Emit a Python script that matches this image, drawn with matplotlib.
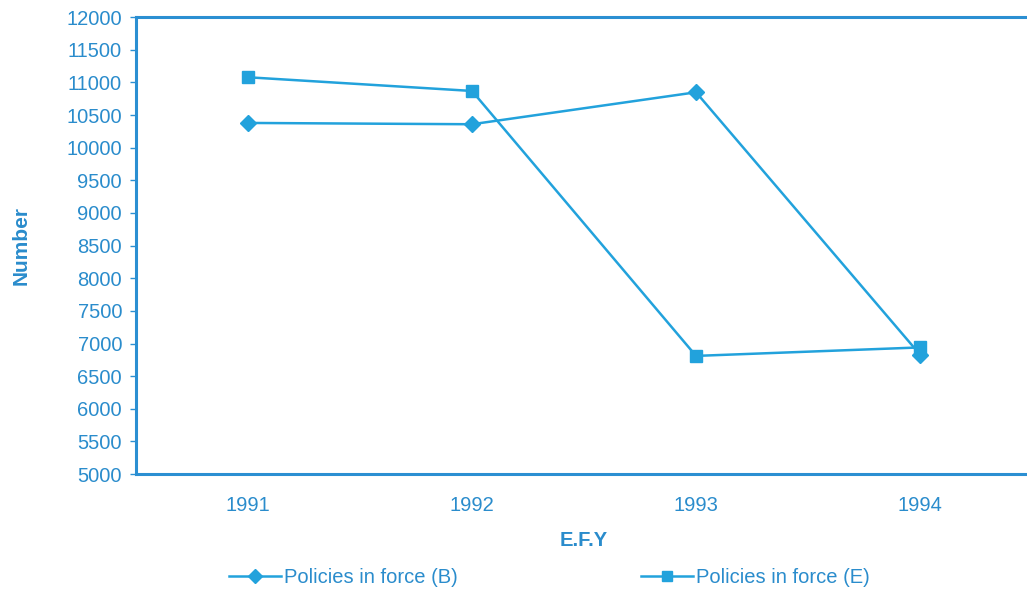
import matplotlib
matplotlib.use("Agg")
import matplotlib.pyplot as plt

years = ["1991", "1992", "1993", "1994"]
policies_b = [10380, 10360, 10850, 6830]
policies_e = [11080, 10870, 6810, 6940]
y_ticks = list(range(5000, 12001, 500))

blue = "#22a2dc"
frame_blue = "#2b8fd2"
text_blue = "#2a8ccc"

plt.rcParams["font.family"] = ["Liberation Sans", "DejaVu Sans"]

fig = plt.figure(figsize=(10.27, 5.94), dpi=100)
ax = fig.add_axes([0.1324, 0.202, 0.8725, 0.769])

x = list(range(len(years)))
ax.plot(x, policies_b, color=blue, lw=1.8, marker="D", markersize=8,
        label="Policies in force (B)")
ax.plot(x, policies_e, color=blue, lw=1.8, marker="s", markersize=9,
        label="Policies in force (E)")

ax.set_xlim(-0.5, 3.5)
ax.set_ylim(5000, 12000)
ax.set_xticks(x)
ax.set_xticklabels(years)
ax.set_yticks(y_ticks)
ax.tick_params(axis="x", length=0, pad=16, labelsize=14.5, labelcolor=text_blue)
ax.tick_params(axis="y", length=4, width=1, color=frame_blue, pad=6,
               labelsize=14.5, labelcolor=text_blue)
for s in ax.spines.values():
    s.set_color(frame_blue)
    s.set_linewidth(2.2)

ax.set_xlabel("E.F.Y", fontsize=14.5, fontweight="bold", color=text_blue, labelpad=11)
ax.set_ylabel("Number", fontsize=15, fontweight="bold", color=text_blue, labelpad=26)

fig.legend(loc="center", bbox_to_anchor=(0.535, 0.028), ncol=2, frameon=False,
           fontsize=14.5, labelcolor=text_blue, columnspacing=9.1,
           handlelength=2.6, handletextpad=0.15, markerscale=0.85)

fig.savefig("out.png", dpi=100)
